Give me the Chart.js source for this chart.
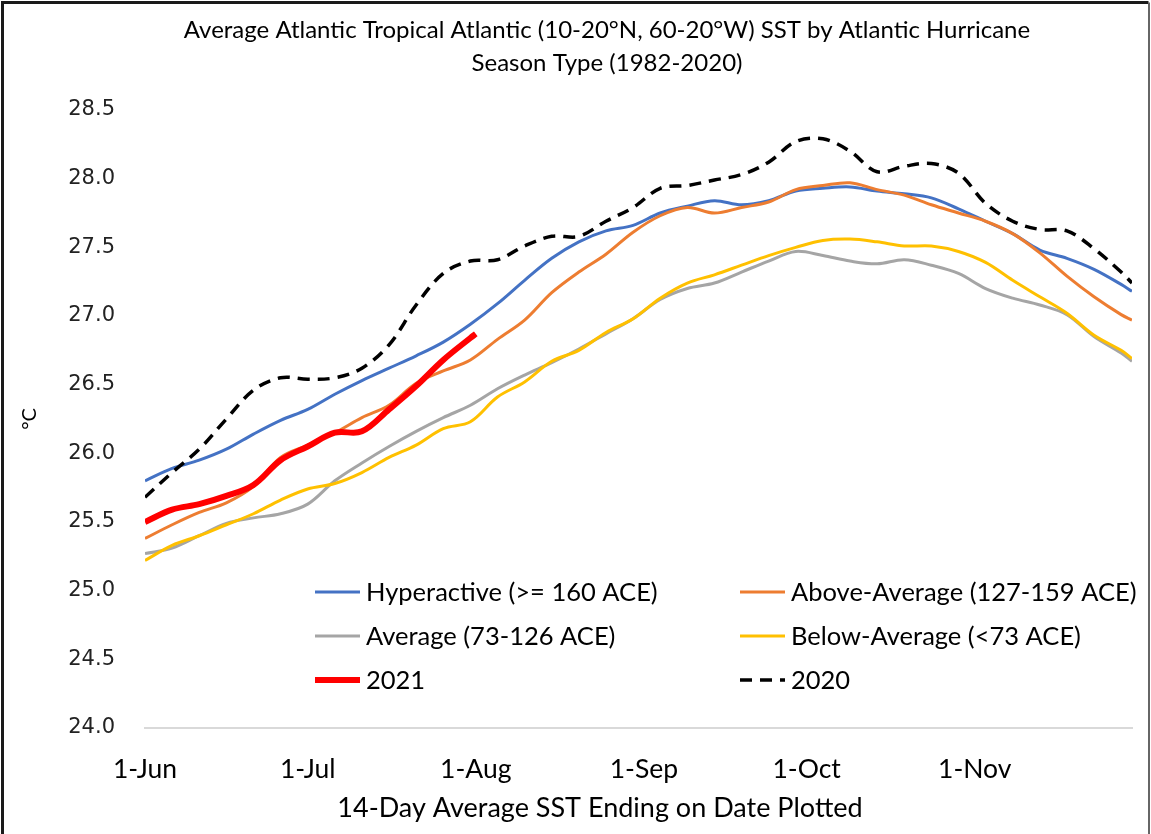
<!DOCTYPE html>
<html lang="en">

<head>
    <meta charset="UTF-8" />
    <title>Tropical Atlantic SST by Hurricane Season Type</title>
    <style>
        html, body { margin: 0; padding: 0; background: #fff; }
        #wrap { width: 1151px; height: 834px; position: relative; }
    </style>
</head>

<body>
    <div id="wrap">
        <canvas id="sstChart"></canvas>
    </div>

    <script src="https://cdn.jsdelivr.net/npm/chart.js"></script>
    <script>
        // x values are days after 1 June (0 = 1-Jun, 182 = 30-Nov)
        const days = [0, 5, 10, 15, 20, 25, 30, 35, 40, 45, 50, 55, 60, 65, 70, 75, 80, 85, 90,
            95, 100, 105, 110, 115, 120, 125, 130, 135, 140, 145, 150, 155, 160, 165, 170, 175, 180, 182];
        const days2021 = [0, 5, 10, 15, 20, 25, 30, 35, 40, 45, 50, 55, 60, 61];

        const hyperactive = [25.80, 25.89, 25.95, 26.03, 26.14, 26.24, 26.32, 26.43, 26.53, 26.62, 26.71, 26.81, 26.94,
            27.09, 27.26, 27.42, 27.54, 27.62, 27.66, 27.75, 27.80, 27.84, 27.81, 27.84, 27.91, 27.93, 27.94, 27.91,
            27.89, 27.86, 27.78, 27.69, 27.60, 27.48, 27.42, 27.34, 27.23, 27.18];
        const aboveAverage = [25.38, 25.48, 25.57, 25.64, 25.76, 25.97, 26.06, 26.15, 26.26, 26.35, 26.51, 26.60, 26.68,
            26.83, 26.97, 27.17, 27.32, 27.45, 27.61, 27.73, 27.79, 27.75, 27.79, 27.83, 27.92, 27.95, 27.97, 27.92,
            27.88, 27.81, 27.75, 27.69, 27.60, 27.46, 27.29, 27.14, 27.01, 26.97];
        const average = [25.27, 25.31, 25.40, 25.49, 25.53, 25.56, 25.63, 25.80, 25.93, 26.05, 26.16, 26.26, 26.35,
            26.47, 26.57, 26.66, 26.76, 26.87, 26.98, 27.12, 27.20, 27.24, 27.32, 27.40, 27.47, 27.44, 27.40, 27.38,
            27.41, 27.37, 27.31, 27.20, 27.13, 27.08, 27.01, 26.85, 26.73, 26.67];
        const belowAverage = [25.22, 25.33, 25.40, 25.48, 25.56, 25.66, 25.74, 25.78, 25.86, 25.97, 26.06, 26.18, 26.23,
            26.41, 26.52, 26.67, 26.75, 26.88, 26.98, 27.13, 27.24, 27.30, 27.37, 27.44, 27.50, 27.55, 27.56, 27.54,
            27.51, 27.51, 27.47, 27.39, 27.26, 27.14, 27.02, 26.86, 26.75, 26.69];
        const sst2021 = [25.50, 25.59, 25.63, 25.69, 25.77, 25.95, 26.05, 26.15, 26.16, 26.32, 26.49, 26.68, 26.84, 26.87];
        const sst2020 = [25.68, 25.86, 26.03, 26.25, 26.46, 26.55, 26.54, 26.55, 26.62, 26.79, 27.08, 27.31, 27.40,
            27.41, 27.51, 27.58, 27.58, 27.69, 27.79, 27.93, 27.95, 27.99, 28.03, 28.12, 28.27, 28.29, 28.20, 28.05,
            28.09, 28.11, 28.04, 27.82, 27.69, 27.63, 27.62, 27.49, 27.32, 27.24];

        const tickDays = [0, 30, 61, 92, 122, 153];
        const tickLabels = ['1-Jun', '1-Jul', '1-Aug', '1-Sep', '1-Oct', '1-Nov'];

        const chartTitle = ['Average Atlantic Tropical Atlantic (10-20\u00b0N, 60-20\u00b0W) SST by Atlantic Hurricane',
            'Season Type (1982-2020)'];
        const xTitle = '14-Day Average SST Ending on Date Plotted';

        const toPoints = (xs, ys) => ys.map((y, i) => ({ x: xs[i], y: y }));

        const series = (label, xs, ys, color, width, order, dash) => ({
            label: label,
            data: toPoints(xs, ys),
            borderColor: color,
            backgroundColor: color,
            borderWidth: width,
            borderDash: dash || [],
            pointRadius: 0,
            tension: 0.35,
            fill: false,
            order: order
        });

        // legend inside the plot area in two columns, titles and frame like the Excel original
        const excelLook = {
            id: 'excelLook',
            afterDatasetsDraw(chart) {
                const ctx = chart.ctx;
                const cols = [315, 740];
                const rows = [592, 636, 680];
                ctx.save();
                ctx.font = '25.5px Lato';
                ctx.textBaseline = 'middle';
                ctx.fillStyle = '#000';
                chart.data.datasets.forEach((ds, i) => {
                    const x = cols[i % 2];
                    const y = rows[Math.floor(i / 2)];
                    ctx.beginPath();
                    ctx.strokeStyle = ds.borderColor;
                    ctx.lineWidth = ds.borderWidth;
                    ctx.setLineDash(ds.borderDash);
                    ctx.moveTo(x, y);
                    ctx.lineTo(x + 45, y);
                    ctx.stroke();
                    ctx.setLineDash([]);
                    ctx.fillText(ds.label, x + 51, y + 1);
                });
                ctx.restore();
            },
            afterDraw(chart) {
                const ctx = chart.ctx;
                ctx.save();
                ctx.fillStyle = '#000';
                ctx.textAlign = 'center';
                ctx.textBaseline = 'middle';
                ctx.font = '24px Lato';
                ctx.fillText(chartTitle[0], 607, 30);
                ctx.fillText(chartTitle[1], 607, 63);
                ctx.font = '27px Lato';
                ctx.fillText(xTitle, 600, 808);

                ctx.strokeStyle = '#1a1a1a';
                ctx.lineWidth = 3;
                ctx.beginPath();
                ctx.moveTo(2.5, 834);
                ctx.lineTo(2.5, 2.5);
                ctx.lineTo(1148.5, 2.5);
                ctx.stroke();
                ctx.strokeStyle = '#666';
                ctx.lineWidth = 2;
                ctx.beginPath();
                ctx.moveTo(1149, 2.5);
                ctx.lineTo(1149, 834);
                ctx.stroke();
                ctx.restore();
            }
        };

        const ctx = document.getElementById('sstChart').getContext('2d');

        const sstChart = new Chart(ctx, {
            type: 'line',
            data: {
                datasets: [
                    series('Hyperactive (>= 160 ACE)', days, hyperactive, '#4472C4', 3, 6),
                    series('Above-Average (127-159 ACE)', days, aboveAverage, '#ED7D31', 3, 5),
                    series('Average (73-126 ACE)', days, average, '#A5A5A5', 3, 4),
                    series('Below-Average (<73 ACE)', days, belowAverage, '#FFC000', 3, 3),
                    series('2021', days2021, sst2021, '#FF0000', 6, 2),
                    series('2020', days, sst2020, '#000000', 3.5, 1, [12, 8])
                ]
            },
            options: {
                responsive: true,
                maintainAspectRatio: false,
                animation: false,
                layout: {
                    padding: { left: 0, top: 110, right: 19, bottom: 0 }
                },
                plugins: {
                    legend: { display: false },
                    tooltip: { enabled: false },
                    title: { display: false }
                },
                scales: {
                    x: {
                        type: 'linear',
                        min: 0,
                        max: 182,
                        afterBuildTicks: (scale) => {
                            scale.ticks = tickDays.map((v) => ({ value: v }));
                        },
                        afterFit: (scale) => {
                            scale.height = 106;
                        },
                        ticks: {
                            autoSkip: false,
                            maxRotation: 0,
                            padding: 26,
                            color: '#000',
                            font: { family: 'Lato', size: 26.5 },
                            callback: (value) => tickLabels[tickDays.indexOf(value)]
                        },
                        grid: { display: false, drawTicks: false },
                        border: { display: true, color: '#d9d9d9', width: 2 }
                    },
                    y: {
                        min: 24,
                        max: 28.5,
                        afterFit: (scale) => {
                            scale.width = 145;
                        },
                        ticks: {
                            stepSize: 0.5,
                            padding: 30,
                            color: '#222',
                            font: { family: 'DejaVu Sans', size: 21 },
                            callback: (value) => value.toFixed(1)
                        },
                        grid: { display: false, drawTicks: false },
                        border: { display: false },
                        title: {
                            display: true,
                            text: '\u00b0C',
                            color: '#000',
                            font: { family: 'Lato', size: 20 },
                            padding: { top: 18, bottom: 0 }
                        }
                    }
                }
            },
            plugins: [excelLook]
        });
    </script>
</body>

</html>
